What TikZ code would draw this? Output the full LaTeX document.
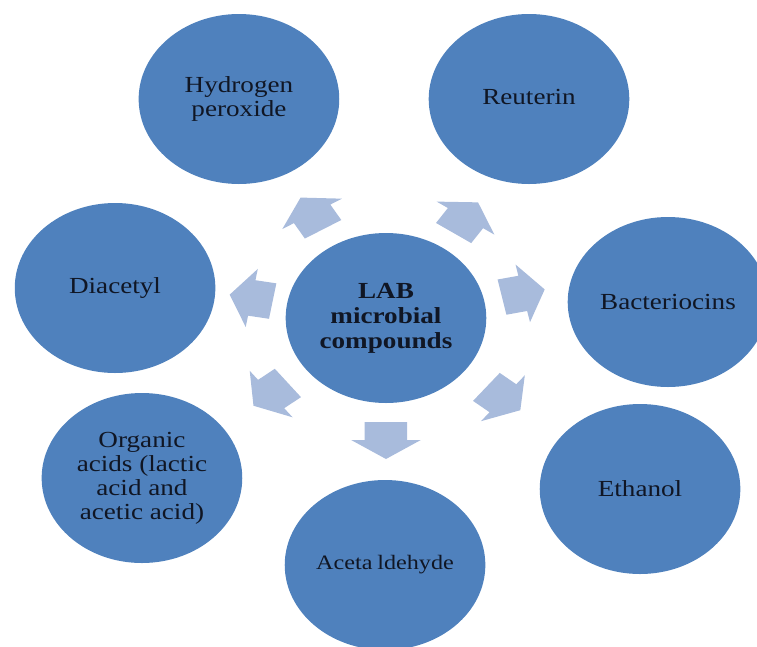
\documentclass[tikz,border=0pt]{standalone}
\usepackage{fontspec}
\setmainfont{Liberation Serif}
\usetikzlibrary{calc}
\definecolor{circblue}{RGB}{79,129,189}
\definecolor{arrblue}{RGB}{168,187,220}
\definecolor{txtcol}{RGB}{16,22,36}
% block arrow leaving node #1 in direction #2 (degrees), centred at distance #3
\newcommand\blockarr[3]{%
  \pgfmathsetmacro\bat{#3-18.5}%
  \pgfmathsetmacro\bah{#3-0.5}%
  \pgfmathsetmacro\bap{#3+18.5}%
  \pgfmathsetmacro\bpl{#2+90}%
  \pgfmathsetmacro\bmi{#2-90}%
  \fill[arrowshape] ($(#1)+(#2:\bat)+(\bpl:18)$) -- ($(#1)+(#2:\bah)+(\bpl:18)$)
    -- ($(#1)+(#2:\bah)+(\bpl:29.5)$) -- ($(#1)+(#2:\bap)$)
    -- ($(#1)+(#2:\bah)+(\bmi:29.5)$) -- ($(#1)+(#2:\bah)+(\bmi:18)$)
    -- ($(#1)+(#2:\bat)+(\bmi:18)$) -- cycle;
}
\begin{document}
\begin{tikzpicture}[x=1pt,y=-1pt,
  bub/.style={circle,fill=circblue,minimum size=170pt,inner sep=0pt,
    align=center,text=txtcol,font=\fontsize{23}{24}\selectfont},
  hub/.style={bub,font=\fontsize{23}{25}\selectfont\bfseries},
  arrowshape/.style={fill=arrblue}]
\useasboundingbox (0,0) rectangle (757,646);
\begin{scope}[transform canvas={xscale=1.18}]
  \node[hub] (LAB) at (327.1,318) {LAB\\microbial\\compounds};
  \node[bub] (H) at (202.5,99) {Hydrogen\\peroxide};
  \node[bub] (R) at (448.3,99) {\raisebox{5pt}{Reuterin}};
  \node[bub] (D) at (97.5,288) {\raisebox{5pt}{Diacetyl}};
  \node[bub] (B) at (566.1,302) {Bacteriocins};
  \node[bub] (E) at (542.4,489) {Ethanol};
  \node[bub] (O) at (120.3,478) {Organic\\acids (lactic\\acid and\\acetic acid)};
  \node[bub,font=\fontsize{20.5}{24}\selectfont] (A) at (326.3,565) {Aceta\kern4pt ldehyde};
  % arrows from the hub toward H, R, D, B, E, O, A
  \blockarr{LAB}{239}{122}
  \blockarr{LAB}{304}{121}
  \blockarr{LAB}{190}{116}
  \blockarr{LAB}{348}{119}
  \blockarr{LAB}{39}{128}
  \blockarr{LAB}{142}{124}
  \blockarr{LAB}{90}{122.5}
\end{scope}
\end{tikzpicture}
\end{document}
